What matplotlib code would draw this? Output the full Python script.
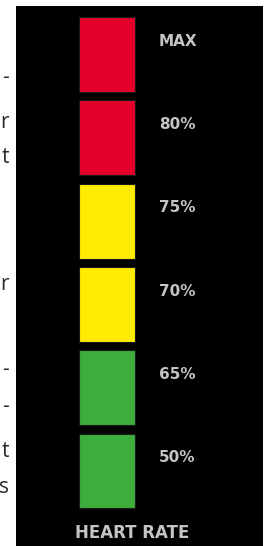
import matplotlib
matplotlib.use("Agg")
import matplotlib.pyplot as plt

# zones, top to bottom
zone_labels = ["MAX", "80%", "75%", "70%", "65%", "50%"]
zone_colors = ["#E4002B", "#E4002B", "#FFEC00", "#FFEC00", "#3DAE3B", "#3DAE3B"]
caption = "HEART RATE"

# clipped fragments of neighbouring text on the left
side_chars = ["-", "r", "t", "r", "-", "-", "t", "s"]
side_y_px = [83, 128, 163, 290, 375, 412, 457, 493]

W, H = 266, 546
fig = plt.figure(figsize=(W / 100, H / 100), dpi=100)
fig.patch.set_facecolor("white")

# black panel
left, top, right = 16, 6, 263
ax = fig.add_axes([left / W, 0, (right - left) / W, (H - top) / H])
ax.set_facecolor("black")
for s in ax.spines.values():
    s.set_visible(False)
ax.set_xticks([])
ax.set_yticks([])

pitch = 83.3
y_idx = list(range(len(zone_labels)))
ax.barh(y_idx, 1, left=0, height=0.9, color=zone_colors, edgecolor="#1a1a1a", linewidth=0.8)

# map data units to the panel pixels
sq_left, sq_w = 79, 56
panel_w = right - left
x0 = -(sq_left - left) / sq_w
ax.set_xlim(x0, x0 + panel_w / sq_w)
y_top = -(54.5 - top) / pitch
ax.set_ylim(y_top + (H - top) / pitch, y_top)

lab_x = (159 - sq_left) / sq_w
for i, lab in enumerate(zone_labels):
    ax.text(lab_x, i - 0.16, lab, color="#C4C4C4", fontsize=11, fontweight="bold",
            ha="left", va="center", family="DejaVu Sans")

ax.text((132 - sq_left) / sq_w, (533 - 54.5) / pitch, caption, color="#C4C4C4",
        fontsize=12, fontweight="bold", ha="center", va="center", family="DejaVu Sans")

for ch, yp in zip(side_chars, side_y_px):
    fig.text(9 / W, 1 - yp / H, ch, color="#2a2a2a", fontsize=15, ha="right",
             va="baseline", family="Open Sans")

fig.savefig("out.png", dpi=100, facecolor="white")
